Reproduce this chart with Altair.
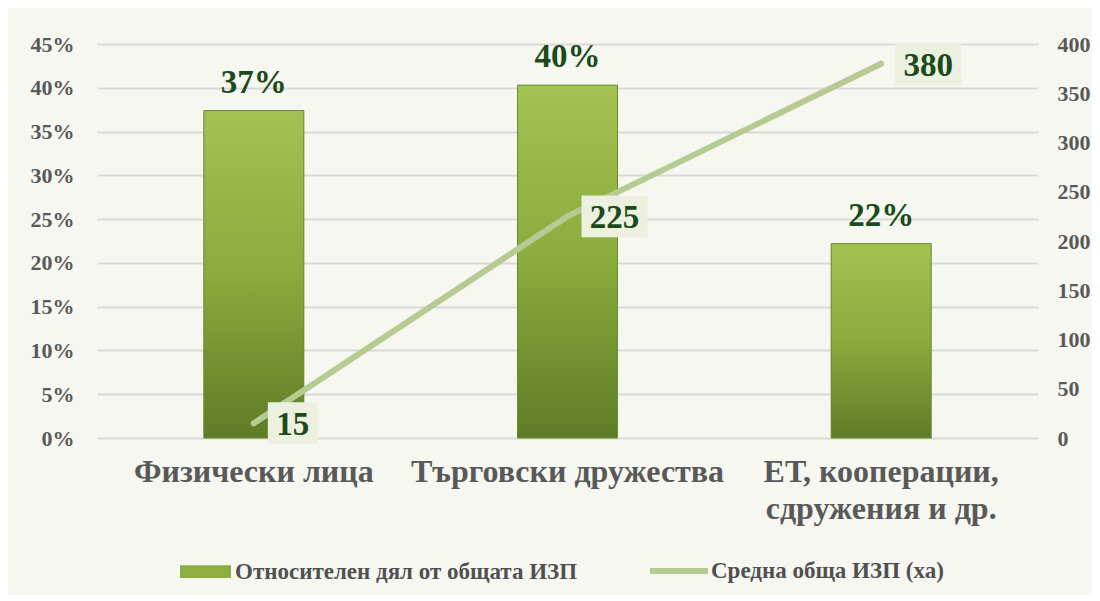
import altair as alt
import pandas as pd

categories = ["Физически лица", "Търговски дружества", "ЕТ, кооперации, сдружения и др."]
share = [0.374, 0.403, 0.222]
area = [15, 225, 380]
bar_series = "Относителен дял от общата ИЗП"
line_series = "Средна обща ИЗП (ха)"

df = pd.DataFrame({"cat": categories, "share": share, "area": area})

FONT = "Liberation Serif"
LABEL_GREEN = "#1B4B1B"
AXIS_GRAY = "#595959"
BOX = "#EBF1DE"

x_enc = alt.X(
    "cat:N",
    sort=categories,
    scale=alt.Scale(paddingInner=0, paddingOuter=0),
    axis=alt.Axis(
        title=None, domain=False, ticks=False, labelAngle=0,
        labelFont=FONT, labelFontSize=32, labelFontWeight="bold", labelColor=AXIS_GRAY,
        labelPadding=18, labelLineHeight=37, labelLimit=400,
        labelExpr="datum.value == 'ЕТ, кооперации, сдружения и др.' ? ['ЕТ, кооперации,', 'сдружения и др.'] : datum.value",
    ),
)

y_left = alt.Y(
    "share:Q",
    scale=alt.Scale(domain=[0, 0.45], nice=False),
    axis=alt.Axis(
        title=None, format=".0%", values=[0, 0.05, 0.1, 0.15, 0.2, 0.25, 0.3, 0.35, 0.4, 0.45],
        domain=False, ticks=False, labelFont=FONT, labelFontSize=22, labelFontWeight="bold",
        labelColor=AXIS_GRAY, labelPadding=23, grid=True, gridColor="#D9D9D9", gridWidth=2,
    ),
)

base = alt.Chart(df)

legend_common = dict(
    title=None, orient="none", padding=0, labelFont=FONT, labelFontSize=23,
    labelFontWeight="bold", labelColor="#505050", labelLimit=500,
)

bar_legend_layer = base.mark_bar(width=100).encode(
    x=x_enc,
    y=y_left,
    fill=alt.Fill(
        "s:N",
        scale=alt.Scale(domain=[bar_series], range=["#8DAE41"]),
        legend=alt.Legend(
            legendX=83, legendY=502, labelOffset=4,
            symbolType="M-1,-0.25L1,-0.25L1,0.25L-1,0.25Z", symbolSize=2601,
            symbolStrokeWidth=0, **legend_common,
        ),
    ),
).transform_calculate(s=f"'{bar_series}'")

grad = alt.Gradient(
    gradient="linear",
    stops=[
        alt.GradientStop(color="#A2C353", offset=0),
        alt.GradientStop(color="#8AAB3D", offset=0.5),
        alt.GradientStop(color="#5E7C26", offset=1),
    ],
    x1=0, x2=0, y1=0, y2=1,
)

bars = base.mark_bar(width=100, color=grad, stroke="#6B8B2C", strokeWidth=1).encode(
    x=x_enc, y=y_left
)

bar_text = base.mark_text(
    font=FONT, fontSize=33, fontWeight="bold", color=LABEL_GREEN, baseline="alphabetic", dy=-18
).encode(x=x_enc, y=y_left, text=alt.Text("share:Q", format=".0%"))

left = alt.layer(bar_legend_layer, bars, bar_text)

y_right = alt.Y(
    "area:Q",
    scale=alt.Scale(domain=[0, 400], nice=False),
    axis=alt.Axis(
        title=None, orient="right", values=[0, 50, 100, 150, 200, 250, 300, 350, 400],
        domain=False, ticks=False, grid=False, labelFont=FONT, labelFontSize=22,
        labelFontWeight="bold", labelColor=AXIS_GRAY, labelPadding=19,
    ),
)

line = base.mark_line(strokeWidth=6, strokeCap="round", strokeJoin="round").encode(
    x=x_enc,
    y=y_right,
    stroke=alt.Stroke(
        "s:N",
        scale=alt.Scale(domain=[line_series], range=["#B5CB92"]),
        legend=alt.Legend(
            legendX=550, legendY=495, labelOffset=0,
            symbolType="stroke", symbolSize=3364, symbolStrokeWidth=6,
            **legend_common,
        ),
    ),
).transform_calculate(s=f"'{line_series}'")

box2 = base.mark_point(
    shape="M-1,-0.84L1,-0.84L1,0.84L-1,0.84Z", size=2500, filled=True, color=BOX, opacity=1, xOffset=39
).encode(x=x_enc, y=y_right).transform_filter("datum.area < 100")
box3 = base.mark_point(
    shape="M-1,-0.636L1,-0.636L1,0.636L-1,0.636Z", size=4356, filled=True, color=BOX, opacity=1, xOffset=47
).encode(x=x_enc, y=y_right).transform_filter("datum.area >= 100")

txt2 = base.mark_text(
    font=FONT, fontSize=33, fontWeight="bold", color=LABEL_GREEN, dx=39, dy=2
).encode(x=x_enc, y=y_right, text="area:Q").transform_filter("datum.area < 100")
txt3 = base.mark_text(
    font=FONT, fontSize=33, fontWeight="bold", color=LABEL_GREEN, dx=47, dy=2
).encode(x=x_enc, y=y_right, text="area:Q").transform_filter("datum.area >= 100")

right = alt.layer(line, box2, box3, txt2, txt3)

chart = (
    alt.layer(left, right)
    .resolve_scale(y="independent")
    .properties(
        width=941,
        height=394,
        autosize=alt.AutoSizeParams(type="none"),
        padding={"left": 89, "top": 36, "right": 54, "bottom": 157},
        background="#F6F7F1",
    )
    .configure_view(stroke=None)
)

chart.save("out.html", embed_options={"renderer": "svg", "actions": False})
